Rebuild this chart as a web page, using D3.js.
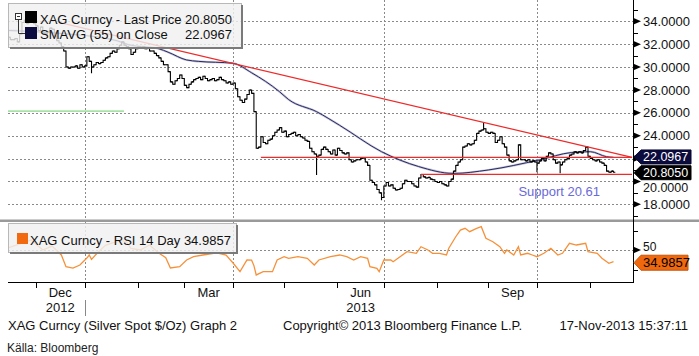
<!DOCTYPE html>
<html><head><meta charset="utf-8">
<script src="https://cdnjs.cloudflare.com/ajax/libs/d3/7.8.5/d3.min.js"></script>
<style>body{margin:0;background:#fff;} svg{display:block;font-family:"Liberation Sans",Arial,sans-serif;}</style>
</head><body><svg id="c" width="699" height="356"></svg>
<script>
// ---------- DATA ----------
const startDate = "2012-11-15";
const axisEndDate = "2013-11-29";
// daily closes, XAG Curncy, one per weekday from 2012-11-15 to 2013-11-15
const closes = [
 32.6,32.4,32.4,32.5,32.2,32.9,33.9,34.1,33.8,34.2,34.5,33.8,
 33.6,33.2,33.5,33.0,32.9,33.1,33.4,33.3,32.7,32.3,32.1,31.8,31.4,30.0,29.9,30.0,30.0,30.1,29.9,30.2,30.0,
 30.1,30.9,30.5,30.0,30.2,30.4,30.3,30.4,30.6,30.8,30.9,31.2,31.4,31.3,31.6,31.9,32.2,31.9,31.8,31.6,31.1,31.3,31.6,
 31.8,31.7,31.8,31.6,31.7,31.4,31.4,31.2,31.0,30.8,30.5,30.2,30.2,29.6,28.7,28.5,28.8,29.0,29.3,29.0,
 28.4,28.2,28.5,28.7,28.9,29.0,29.1,28.9,29.2,29.0,28.8,28.9,29.0,28.8,28.9,29.1,28.9,28.8,28.6,28.7,28.5,
 28.6,28.1,27.4,27.1,26.9,27.2,27.6,28.0,27.7,26.1,22.9,
 23.0,23.9,23.4,23.3,23.6,23.7,24.0,24.3,24.5,24.7,24.3,
 24.4,23.9,24.1,24.2,24.3,24.0,24.1,23.9,23.8,23.6,23.5,22.9,22.6,22.4,22.2,22.3,22.8,23.0,22.8,22.6,22.4,22.75,22.3,
 22.9,22.7,22.5,22.4,22.5,21.9,21.7,21.8,21.9,21.9,22.0,22.05,21.7,21.4,20.1,19.9,19.7,19.3,19.0,18.6,
 19.6,19.9,19.6,19.7,19.4,19.25,19.3,19.4,19.8,20.1,20.0,20.0,19.8,19.6,19.5,20.3,20.6,20.4,20.3,20.35,20.2,20.15,20.0,
 19.9,20.0,19.8,19.7,19.6,20.0,20.2,20.9,21.4,21.7,21.9,23.0,23.1,23.3,23.2,23.3,23.6,24.2,24.4,24.5,24.6,24.3,
 24.2,24.3,24.2,23.4,23.6,23.9,23.3,23.0,22.3,21.8,21.7,21.8,21.9,23.2,21.9,21.9,21.8,21.9,21.7,21.8,21.7,
 21.6,21.8,22.0,21.8,22.2,22.5,22.4,21.9,21.6,21.7,21.45,21.7,21.9,22.0,22.3,22.4,22.6,22.5,22.6,22.5,22.7,23.0,22.2,
 22.0,21.9,21.8,21.9,21.7,21.6,21.4,20.9,20.8,20.9,20.805
];
// intraday extremes beyond the close-to-close range
const wickDates  = ["2013-01-04","2013-05-21","2013-06-28","2013-08-29","2013-10-01","2013-10-15"];
const wickValues = [29.5, 20.6, 18.4, 25.1, 20.85, 20.75];

const smaDates  = ["2012-11-15","2012-12-17","2013-01-21","2013-01-28","2013-02-14","2013-02-20","2013-03-04","2013-03-11","2013-04-01","2013-04-11","2013-04-29","2013-05-03","2013-05-21","2013-06-04","2013-06-28","2013-07-22","2013-08-12","2013-09-02","2013-10-02","2013-10-22","2013-11-01","2013-11-12","2013-11-15"];
const smaValues = [33.2,32.95,32.3,31.95,31.6,31.3,30.62,30.5,30.33,29.5,27.85,27.15,26.1,24.9,22.6,21.3,20.7,21.0,21.88,22.53,22.6,22.16,22.0967];

const rsiDates = ["2012-11-15","2012-11-29","2012-12-06","2012-12-12","2012-12-18","2012-12-20","2012-12-25","2012-12-28","2013-01-02","2013-01-03","2013-01-04","2013-01-09","2013-01-14","2013-01-17","2013-01-23","2013-01-25","2013-01-29","2013-02-04","2013-02-08","2013-02-14","2013-02-19","2013-02-21","2013-02-27","2013-03-04","2013-03-07","2013-03-13","2013-03-21","2013-03-27","2013-04-01","2013-04-04","2013-04-09","2013-04-11","2013-04-12","2013-04-15","2013-04-18","2013-04-24","2013-04-26","2013-05-01","2013-05-03","2013-05-09","2013-05-15","2013-05-20","2013-05-22","2013-05-29","2013-06-04","2013-06-07","2013-06-12","2013-06-17","2013-06-20","2013-06-21","2013-06-26","2013-06-27","2013-07-01","2013-07-04","2013-07-05","2013-07-10","2013-07-15","2013-07-19","2013-07-23","2013-07-26","2013-07-30","2013-08-02","2013-08-07","2013-08-08","2013-08-13","2013-08-15","2013-08-19","2013-08-21","2013-08-26","2013-08-28","2013-08-30","2013-09-04","2013-09-09","2013-09-11","2013-09-12","2013-09-17","2013-09-19","2013-09-20","2013-09-25","2013-09-27","2013-10-01","2013-10-04","2013-10-09","2013-10-14","2013-10-16","2013-10-21","2013-10-24","2013-10-30","2013-10-31","2013-11-06","2013-11-08","2013-11-13","2013-11-15"];
const rsiValues = [52.6,62.8,50,55,43.6,28.6,26.9,30.8,39.7,43.6,38,47.8,56,59,62,60.6,52,50,56.4,46.2,40,26.9,28.6,37.2,41.4,43.6,46.2,43.6,33.3,22.2,37.2,37,30,18,22.2,22.2,37.2,41.4,39.4,41.4,39.4,30.8,37.2,41.4,43.6,41.4,37.2,41.4,39.4,28.6,26.5,22.2,37.2,37.2,35,41.4,47.8,45.8,54.2,50,45.8,45.8,43.6,52.2,67,75.6,77.8,73.5,77.8,79.9,65,60.6,54.2,45.8,50,43.6,54.2,43.6,45.8,43.6,41.4,45.8,52.2,43.6,45.8,58.6,56.4,58.6,47.8,45.8,39.4,33,34.9857];

const trendDates  = ["2012-12-17","2013-11-27"];
const trendValues = [33.9, 22.1];
const resistDates = ["2013-04-17","2013-11-27"];
const resistValue = 22.1;
const supportDates = ["2013-07-23","2013-11-27"];
const supportValue = 20.61;
const greenDates = ["2012-11-15","2013-01-24"];
const greenValue = 26.15;

const priceMajorTicks = [18,20,22,24,26,28,30,32,34];
const priceMinorTicks = [17,19,21,23,25,27,29,31,33,35];
const rsiMajorTicks = [50];
const rsiMinorTicks = [25,75];
const labelMonths = ["2012-12-01","2013-03-01","2013-06-01","2013-09-01"];
const labelNames  = ["Dec","Mar","Jun","Sep"];
const yearMonths  = ["2012-12-01","2013-06-01"];
const yearNames   = ["2012","2013"];
const quarterStarts = ["2013-01-01","2013-04-01","2013-07-01","2013-10-01"];

const lastPrice = 20.8050, lastSma = 22.0967, lastRsi = 34.9857;

// ---------- SETUP ----------
const svg = d3.select("#c");
const parse = d3.timeParse("%Y-%m-%d"), fmt = d3.timeFormat("%Y-%m-%d");
const days = d3.timeDay.range(parse(startDate), d3.timeDay.offset(parse(axisEndDate),1)).filter(d => d.getDay()%6 !== 0);
const idx = new Map(days.map((d,i)=>[fmt(d),i]));
const firstTradingIndex = s => { const t = parse(s); return days.findIndex(d => d >= t); };
const L = 8, R = 633;
const x = d3.scaleLinear().domain([0, idx.get("2013-11-27")+0.4]).range([L, R]);
const xd = s => x(idx.get(s));
const y = d3.scaleLinear().domain([18,34]).range([204.3,21.3]);
const yr = d3.scaleLinear().domain([25,75]).range([269.5,230.5]);
const mainTop = 0, mainBot = 220, rsiTop = 222, rsiBot = 282;

const defs = svg.append("defs");
defs.append("clipPath").attr("id","cm").append("rect").attr("x",L).attr("y",mainTop).attr("width",R-L).attr("height",mainBot-mainTop);
defs.append("clipPath").attr("id","cr").append("rect").attr("x",L).attr("y",rsiTop).attr("width",R-L).attr("height",rsiBot-rsiTop);

// grid
const grid = svg.append("g").attr("stroke","#8a8a8a").attr("stroke-width",1).attr("stroke-dasharray","2,2");
priceMajorTicks.forEach(v => grid.append("line").attr("x1",L).attr("x2",R).attr("y1",Math.round(y(v))+0.5).attr("y2",Math.round(y(v))+0.5));
rsiMajorTicks.forEach(v => grid.append("line").attr("x1",L).attr("x2",R).attr("y1",Math.round(yr(v))+0.5).attr("y2",Math.round(yr(v))+0.5));
quarterStarts.forEach(s => {
  const xx = Math.round(x(firstTradingIndex(s)))+0.5;
  grid.append("line").attr("x1",xx).attr("x2",xx).attr("y1",mainTop).attr("y2",mainBot);
  grid.append("line").attr("x1",xx).attr("x2",xx).attr("y1",rsiTop).attr("y2",rsiBot);
});

// main panel
const gm = svg.append("g").attr("clip-path","url(#cm)");
gm.append("line").attr("x1",xd(greenDates[0])).attr("x2",xd(greenDates[1])).attr("y1",y(greenValue)).attr("y2",y(greenValue)).attr("stroke","#66cc66").attr("stroke-width",1);

const smaPts = smaDates.map((d,i)=>[xd(d), y(smaValues[i])]);
const smaLine = d3.line().curve(d3.curveMonotoneX);
gm.append("path").attr("d",smaLine(smaPts)).attr("fill","none").attr("stroke","#9c9cc0").attr("stroke-width",2.2).attr("opacity",0.6);
gm.append("path").attr("d",smaLine(smaPts)).attr("fill","none").attr("stroke","#2a2a62").attr("stroke-width",1);

// price bars
const wick = new Map(wickDates.map((d,i)=>[idx.get(d), wickValues[i]]));
const bars = gm.append("g").attr("stroke","#000").attr("stroke-width",1.1).attr("fill","none");
closes.forEach((c,i) => {
  const o = i ? closes[i-1] : c;
  let hi = Math.max(o,c), lo = Math.min(o,c);
  if (wick.has(i)) { const w = wick.get(i); hi = Math.max(hi,w); lo = Math.min(lo,w); }
  const xx = x(i);
  bars.append("path").attr("d",`M${xx},${y(hi)-0.5}V${y(lo)+0.5}M${xx-1.5},${y(o)}H${xx}M${xx},${y(c)}H${xx+1.8}`);
});

// red lines
const red = gm.append("g").attr("stroke","#ee2a2a").attr("stroke-width",1.3);
red.append("line").attr("x1",xd(trendDates[0])).attr("y1",y(trendValues[0])).attr("x2",xd(trendDates[1])).attr("y2",y(trendValues[1]));
red.append("line").attr("x1",xd(resistDates[0])).attr("y1",y(resistValue)).attr("x2",xd(resistDates[1])).attr("y2",y(resistValue));
red.append("line").attr("x1",xd(supportDates[0])).attr("y1",y(supportValue)).attr("x2",xd(supportDates[1])).attr("y2",y(supportValue));

svg.append("text").attr("x",xd("2013-09-19")).attr("y",y(supportValue)+22).attr("font-size",13).attr("fill","#6a6ad8").text("Support " + supportValue.toFixed(2));

// RSI panel
const gr = svg.append("g").attr("clip-path","url(#cr)");
gr.append("path").attr("d",d3.line()(rsiDates.map((d,i)=>[xd(d), yr(rsiValues[i])]))).attr("fill","none").attr("stroke","#f6913a").attr("stroke-width",1.3);

// legends
function legendBox(x0,y0,w,h){
  svg.append("rect").attr("x",x0+0.5).attr("y",y0+0.5).attr("width",w).attr("height",h).attr("fill","#f0f0f0").attr("fill-opacity",0.82).attr("stroke","#b8b8b8");
  svg.append("path").attr("d",`M${x0+w+1},${y0+2}V${y0+h+1}H${x0+2}`).attr("fill","none").attr("stroke","#7a7a7a").attr("stroke-width",2);
}
legendBox(8,3,233,44);
svg.append("rect").attr("x",15.5).attr("y",13.5).attr("width",6).attr("height",6).attr("fill","#fff").attr("stroke","#333");
svg.append("path").attr("d","M17,16.5H20M18.5,19.5V33.5H25").attr("stroke","#333").attr("fill","none");
svg.append("rect").attr("x",25).attr("y",11).attr("width",12).attr("height",12).attr("fill","#000");
svg.append("rect").attr("x",25).attr("y",27).attr("width",12).attr("height",12).attr("fill","#0b0b40");
const lt = svg.append("g").attr("font-size",13).attr("fill","#111");
lt.append("text").attr("x",40).attr("y",23.5).text("XAG Curncy  - Last Price");
lt.append("text").attr("x",232).attr("y",23.5).attr("text-anchor","end").text(lastPrice.toFixed(4));
lt.append("text").attr("x",40).attr("y",39).text("SMAVG (55) on Close");
lt.append("text").attr("x",232).attr("y",39).attr("text-anchor","end").text(lastSma.toFixed(4));

legendBox(8,223,228,29);
svg.append("rect").attr("x",17).attr("y",233).attr("width",11).attr("height",11).attr("fill","#f26a10");
svg.append("text").attr("x",30).attr("y",245).attr("font-size",13).attr("fill","#111").text("XAG Curncy - RSI 14 Day " + lastRsi.toFixed(4));

// separator & axes
svg.append("rect").attr("x",0).attr("y",219.5).attr("width",699).attr("height",2.5).attr("fill","#9a9a9a");
svg.append("line").attr("x1",R+0.5).attr("x2",R+0.5).attr("y1",0).attr("y2",rsiBot+0.5).attr("stroke","#000");
svg.append("line").attr("x1",L).attr("x2",R+1).attr("y1",rsiBot+0.5).attr("y2",rsiBot+0.5).attr("stroke","#000");

// value tag positions (used to hide axis labels they cover, as in the reference)
const tagYs = [y(lastSma)-0.5, y(lastPrice)+0.5];

const ax = svg.append("g").attr("font-size",13).attr("fill","#111");
function majorTick(yy){ svg.append("path").attr("d",`M${R},${yy-3.5}L${R+8},${yy}L${R},${yy+3.5}Z`).attr("fill","#000"); }
priceMajorTicks.forEach(v => {
  majorTick(y(v));
  const dist = d3.min(tagYs, t => Math.abs(t - y(v)));
  if (dist < 4) return; // fully covered by a value tag
  const shift = dist < 12 ? 6 : 0; // partly covered: show it just below the tag
  ax.append("text").attr("x",643).attr("y",y(v)+shift).attr("dy","0.36em").attr("font-size", shift ? 12.5 : 13).text(v.toFixed(4));
});
priceMinorTicks.forEach(v => svg.append("line").attr("x1",R).attr("x2",R+5).attr("y1",Math.round(y(v))+0.5).attr("y2",Math.round(y(v))+0.5).attr("stroke","#000"));
rsiMajorTicks.forEach(v => { majorTick(yr(v)); ax.append("text").attr("x",643).attr("y",yr(v)-3).attr("dy","0.36em").attr("font-size",12).text(v); });
rsiMinorTicks.forEach(v => svg.append("line").attr("x1",R).attr("x2",R+5).attr("y1",Math.round(yr(v))+0.5).attr("y2",Math.round(yr(v))+0.5).attr("stroke","#000"));

// month ticks
const months = d3.timeMonth.range(parse("2012-12-01"), parse("2013-12-01"));
months.forEach(m => {
  const i = days.findIndex(d => d >= m);
  const xx = Math.round(x(i))+0.5;
  if (xx <= R) svg.append("line").attr("x1",xx).attr("x2",xx).attr("y1",rsiBot).attr("y2",rsiBot+6).attr("stroke","#000");
});
const monthCenter = s => { const m = parse(s); return (x(days.findIndex(d=>d>=m)) + x(days.findIndex(d=>d>=d3.timeMonth.offset(m,1))))/2; };
labelMonths.forEach((s,k) => ax.append("text").attr("x",monthCenter(s)).attr("y",296.5).attr("text-anchor","middle").text(labelNames[k]));
yearMonths.forEach((s,k) => ax.append("text").attr("x",monthCenter(s)).attr("y",312).attr("text-anchor","middle").text(yearNames[k]));
const yb = Math.round(x(firstTradingIndex("2013-01-01")))+0.5;
svg.append("line").attr("x1",yb).attr("x2",yb).attr("y1",300).attr("y2",316).attr("stroke","#888");

// value tags
function tag(yc, label, fill, tfill, right, h, fs){
  svg.append("path").attr("d",`M${R+1},${yc}L${R+8},${yc-h/2}H${right}V${yc+h/2}H${R+8}Z`).attr("fill",fill).attr("stroke",d3.color(fill).darker(0.6));
  svg.append("text").attr("x",R+10).attr("y",yc).attr("dy","0.35em").attr("font-size",fs).attr("fill",tfill).text(label);
}
tag(tagYs[0], lastSma.toFixed(4), "#0b0b3e", "#fff", 691, 14, 12.5);
tag(tagYs[1], lastPrice.toFixed(4), "#000000", "#fff", 691, 14, 12.5);
tag(yr(lastRsi)+1, lastRsi.toFixed(4), "#f0680e", "#000", 688, 15, 13);

// footer
const ft = svg.append("g").attr("font-size",13).attr("fill","#111");
ft.append("text").attr("x",8).attr("y",330).text("XAG Curncy (Silver Spot  $/Oz) Graph 2");
ft.append("text").attr("x",283).attr("y",330).text("Copyright\u00A9 2013 Bloomberg Finance L.P.");
ft.append("text").attr("x",688).attr("y",330).attr("text-anchor","end").text("17-Nov-2013 15:37:11");
svg.append("text").attr("x",7).attr("y",352).attr("font-size",12).attr("fill","#222").text("Källa: Bloomberg");
</script></body></html>
